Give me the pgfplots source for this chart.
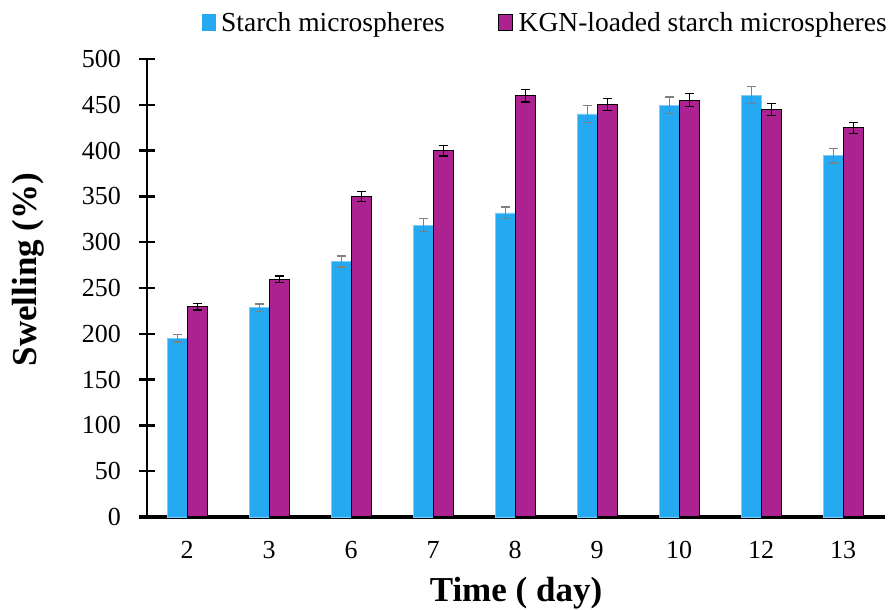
\documentclass[border=0pt]{standalone}
\usepackage{pgfplots}
\pgfplotsset{compat=1.18}
\usepackage{pgfplotstable}
\usepackage{fontspec}
\setmainfont{Liberation Serif}
\definecolor{cblue}{HTML}{25AAF2}
\definecolor{cpurple}{HTML}{AB2290}
\pgfplotstableread{
x y e
0 195 4
1 228.5 4
2 279 6
3 318.5 7
4 332 6.5
5 440 9
6 449.5 9
7 460.5 9.5
8 394.5 8
}\starch
\pgfplotstableread{
x y e
0 229.5 3.5
1 259.5 3.5
2 349.5 5.5
3 400 6
4 460 7
5 450.5 6.5
6 455 7
7 444.5 6.5
8 425 6
}\kgn
\begin{document}
\begin{tikzpicture}
\begin{axis}[
  scale only axis,
  width=738pt, height=458pt,
  ymin=0, ymax=500, ytick distance=50,
  xmin=-0.49, xmax=8.51,
  xtick={0,...,8},
  xticklabels={2,3,6,7,8,9,10,12,13},
  axis x line*=bottom, axis y line*=left,
  x axis line style={line width=4pt, shorten <=-8pt},
  y axis line style={line width=2.5pt},
  tick align=center,
  major tick length=16pt,
  ytick style={line width=2.5pt, black},
  xtick style={draw=none},
  /pgf/number format/assume math mode=true,
  ticklabel style={font=\fontsize{26}{30}\selectfont, inner sep=0pt},
  yticklabel style={xshift=-18pt},
  xticklabel style={yshift=-8pt},
  ybar=0pt, bar width=20pt,
  xlabel={\textbf{Time ( day)}},
  ylabel={\textbf{Swelling (\%)}},
  label style={font=\fontsize{35}{40}\selectfont},
  xlabel style={at={(axis description cs:0.5,0)}, anchor=center, yshift=-76pt},
  ylabel style={at={(axis description cs:-0.161,0.54)}, anchor=center},
  legend columns=2,
  legend style={at={(rel axis cs:1,1)}, anchor=south east, yshift=24pt, xshift=4pt,
    draw=none, fill=none, inner sep=0pt,
    font=\fontsize{27.5}{30}\selectfont,
    nodes={inner sep=2pt},
    /tikz/every odd column/.append style={column sep=4pt},
    /tikz/every even column/.append style={column sep=51pt}},
]
\addplot[fill=cblue, draw=cblue!60!white, line width=0.6pt,
  legend image code/.code={\fill[cblue] (0pt,-8pt) rectangle (13pt,8pt);},
  error bars/.cd, y dir=both, y explicit,
  error bar style={line width=1.2pt, draw=gray},
  error mark options={rotate=90, mark size=4.5pt, line width=1.2pt, draw=gray}]
  table[x=x, y=y, y error=e]{\starch};
\addlegendentry{Starch microspheres}
\addplot[fill=cpurple, draw=black, line width=1.2pt,
  legend image code/.code={\filldraw[fill=cpurple, draw=black, line width=0.8pt] (0pt,-8pt) rectangle (14pt,8pt);},
  error bars/.cd, y dir=both, y explicit,
  error bar style={line width=1.2pt, draw=black},
  error mark options={rotate=90, mark size=4.5pt, line width=1.2pt, draw=black}]
  table[x=x, y=y, y error=e]{\kgn};
\addlegendentry{KGN-loaded starch microspheres}
\end{axis}
\pgfresetboundingbox
\useasboundingbox (-147pt,-93pt) rectangle (744pt,517pt);
\end{tikzpicture}
\end{document}
